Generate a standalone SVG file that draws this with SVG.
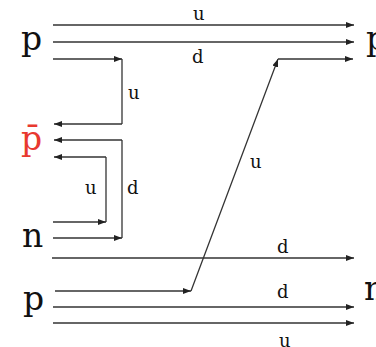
<svg xmlns="http://www.w3.org/2000/svg" width="376" height="347" viewBox="0 0 376 347">
<defs>
<style>
.ln{stroke:#333;stroke-width:1.3;fill:none}
.a{marker-end:url(#ah)}
.big{font-family:"DejaVu Serif","Liberation Serif",serif;font-size:33px;fill:#111}
.lb{font-family:"DejaVu Serif","Liberation Serif",serif;font-size:18px;fill:#111}
</style>
<marker id="ah" markerUnits="userSpaceOnUse" markerWidth="9" markerHeight="7" refX="8" refY="3" orient="auto">
<path d="M0,0 L8,3 L0,6 z" fill="#222"/>
</marker>
</defs>
<rect width="376" height="347" fill="#fff"/>
<g id="connectors">
<line class="ln a" x1="53" y1="25" x2="354" y2="25"/>
<line class="ln a" x1="53" y1="42" x2="354" y2="42"/>
<line class="ln a" x1="53" y1="59" x2="122" y2="59"/>
<line class="ln" x1="122" y1="59" x2="122" y2="124"/>
<line class="ln a" x1="122" y1="124" x2="54" y2="124"/>
<line class="ln a" x1="122" y1="140" x2="54" y2="140"/>
<line class="ln" x1="122" y1="140" x2="122" y2="238"/>
<line class="ln a" x1="53" y1="238" x2="122" y2="238"/>
<line class="ln a" x1="106" y1="157" x2="54" y2="157"/>
<line class="ln" x1="106" y1="157" x2="106" y2="222"/>
<line class="ln a" x1="53" y1="222" x2="106" y2="222"/>
<line class="ln a" x1="52" y1="258" x2="354" y2="258"/>
<line class="ln a" x1="55" y1="291" x2="191" y2="291"/>
<line class="ln a" x1="191" y1="291" x2="278" y2="59"/>
<line class="ln a" x1="278" y1="59" x2="353" y2="59"/>
<line class="ln a" x1="53" y1="307" x2="354" y2="307"/>
<line class="ln a" x1="53" y1="323" x2="354" y2="323"/>
</g>
<g id="labels">
<text class="lb" x="193" y="20">u</text>
<text class="lb" x="192" y="63">d</text>
<text class="lb" x="128" y="99">u</text>
<text class="lb" x="85" y="194">u</text>
<text class="lb" x="127" y="194">d</text>
<text class="lb" x="250" y="168">u</text>
<text class="lb" x="277" y="253">d</text>
<text class="lb" x="277" y="298">d</text>
<text class="lb" x="279" y="347">u</text>
</g>
<g id="node-p-top"><text class="big" x="21" y="50">p</text></g>
<g id="node-pbar"><text class="big" x="21" y="150" style="fill:#e8392f">p̄</text></g>
<g id="node-n"><text class="big" x="22" y="247">n</text></g>
<g id="node-p-bottom"><text class="big" x="23" y="310">p</text></g>
<g id="node-p-right"><text class="big" x="366" y="50">p</text></g>
<g id="node-n-right"><text class="big" x="364" y="300">n</text></g>
</svg>
